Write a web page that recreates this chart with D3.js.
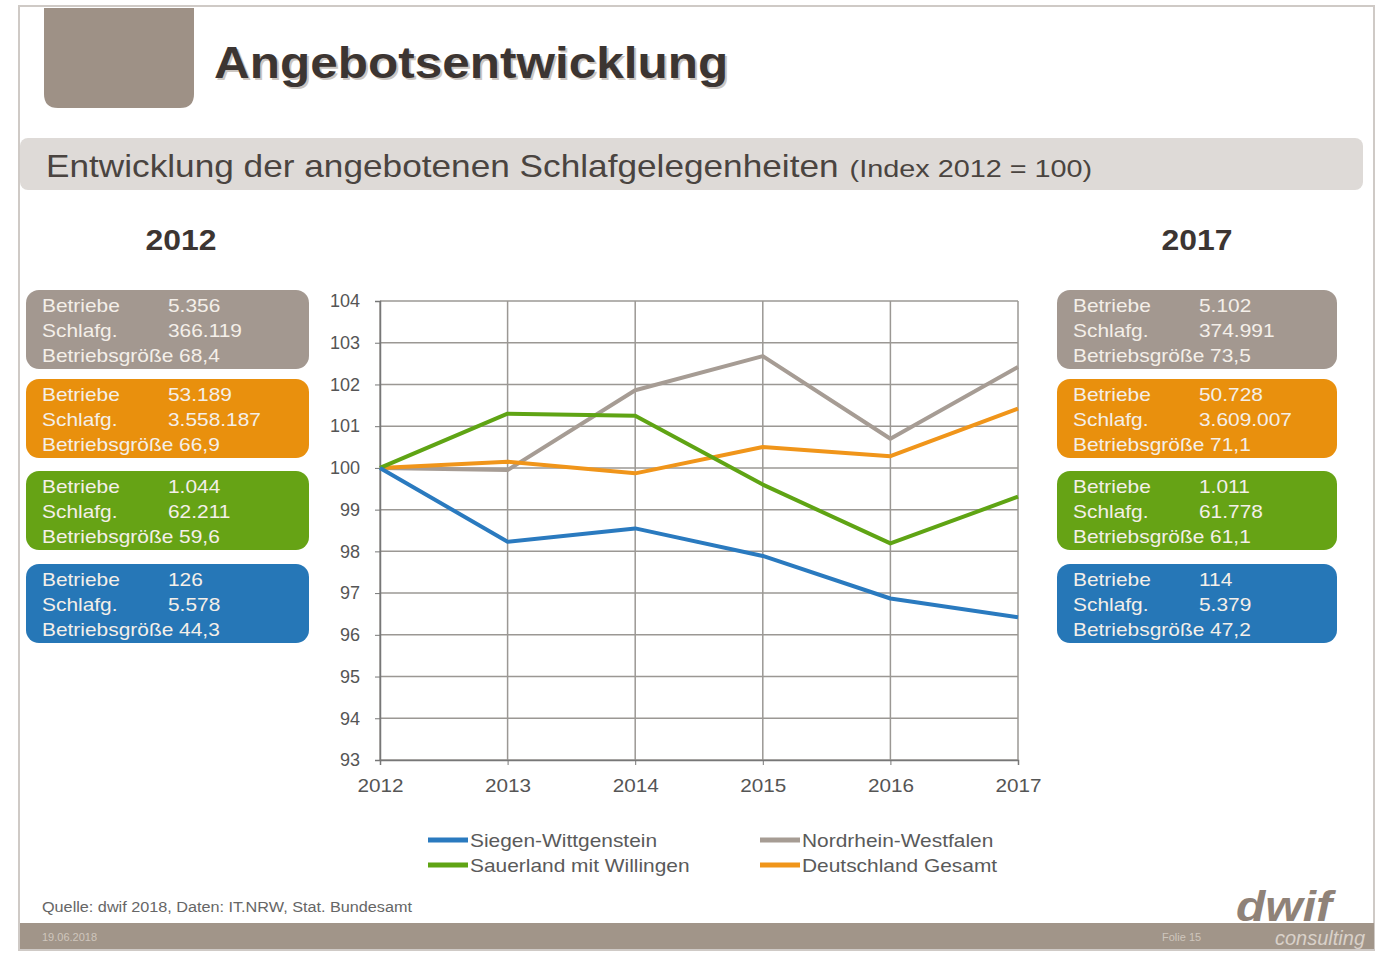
<!DOCTYPE html>
<html>
<head>
<meta charset="utf-8">
<script src="https://cdn.jsdelivr.net/npm/d3@7"></script>
<style>
  body { margin: 0; background: #fff; }
  svg { display: block; font-family: "Liberation Sans", Arial, sans-serif; }
</style>
</head>
<body>
<svg id="slide" width="1379" height="955"></svg>
<script>
"use strict";

// data
var years = [2012, 2013, 2014, 2015, 2016, 2017];
var yTicks = [93, 94, 95, 96, 97, 98, 99, 100, 101, 102, 103, 104];
var seriesNames = ["Siegen-Wittgenstein", "Sauerland mit Willingen", "Nordrhein-Westfalen", "Deutschland Gesamt"];
var siegen = [100, 98.23, 98.55, 97.89, 96.87, 96.42];
var sauerland = [100, 101.3, 101.25, 99.6, 98.19, 99.31];
var nrw = [100, 99.95, 101.86, 102.68, 100.7, 102.42];
var deutschland = [100, 100.15, 99.87, 100.5, 100.28, 101.42];

// boxes: order top to bottom = NRW, Deutschland, Sauerland, Siegen
var boxLabels = ["Betriebe", "Schlafg.", "Betriebsgröße"];
var box2012 = [
  ["5.356", "366.119", "68,4"],
  ["53.189", "3.558.187", "66,9"],
  ["1.044", "62.211", "59,6"],
  ["126", "5.578", "44,3"]
];
var box2017 = [
  ["5.102", "374.991", "73,5"],
  ["50.728", "3.609.007", "71,1"],
  ["1.011", "61.778", "61,1"],
  ["114", "5.379", "47,2"]
];

var colBlue = "#2a7abf", colGreen = "#5fa414", colGrey = "#a69c94", colOrange = "#f0951a";
var boxColors = ["#a39890", "#e9900d", "#66a315", "#2677b7"];
var STRETCH = 1.1; // the slide is a bit wider than the font

var svg = d3.select('#slide');

// widen a text horizontally, keeps its anchor
function widen(sel, k) {
  sel.each(function () {
    var len = this.getComputedTextLength();
    d3.select(this).attr('textLength', len * (k || STRETCH)).attr('lengthAdjust', 'spacingAndGlyphs');
  });
  return sel;
}

// slide frame
svg.append('rect').attr('x', 19).attr('y', 6).attr('width', 1355).attr('height', 944)
  .attr('fill', '#fff').attr('stroke', '#cfcac6').attr('stroke-width', 2);

// title square with rounded bottom
svg.append('path')
  .attr('d', 'M44,8 H194 V94 Q194,108 180,108 H58 Q44,108 44,94 Z')
  .attr('fill', '#9e9186');
widen(svg.append('text').attr('x', 216).attr('y', 80)
  .attr('font-size', 45).attr('font-weight', 'bold').attr('fill', '#ccc6c1')
  .text('Angebotsentwicklung'));
widen(svg.append('text').attr('x', 214).attr('y', 78)
  .attr('font-size', 45).attr('font-weight', 'bold').attr('fill', '#3c3532')
  .text('Angebotsentwicklung'));

// subtitle band
svg.append('rect').attr('x', 20).attr('y', 138).attr('width', 1343).attr('height', 52)
  .attr('rx', 8).attr('fill', '#dedad7');
var sub1 = widen(svg.append('text').attr('x', 46).attr('y', 177).attr('fill', '#4a4440')
  .attr('font-size', 32).text('Entwicklung der angebotenen Schlafgelegenheiten'));
var sub1Len = +sub1.attr('textLength');
widen(svg.append('text').attr('x', 46 + sub1Len + 11).attr('y', 177).attr('fill', '#4a4440')
  .attr('font-size', 24).text('(Index 2012 = 100)'), 1.2);

// year headers
widen(svg.append('text').attr('x', 181).attr('y', 250).attr('text-anchor', 'middle')
  .attr('font-size', 29).attr('font-weight', 'bold').attr('fill', '#3c3532').text('2012'));
widen(svg.append('text').attr('x', 1197).attr('y', 250).attr('text-anchor', 'middle')
  .attr('font-size', 29).attr('font-weight', 'bold').attr('fill', '#3c3532').text('2017'));

// info boxes
var boxTops = [290, 379, 471, 564];
function drawBoxes(x0, w, vals) {
  vals.forEach(function (v, i) {
    var g = svg.append('g').attr('transform', 'translate(' + x0 + ',' + boxTops[i] + ')');
    g.append('rect').attr('width', w).attr('height', 79).attr('rx', 13).attr('fill', boxColors[i]);
    boxLabels.forEach(function (lab, j) {
      var t = g.append('text').attr('x', 16).attr('y', 22 + j * 25)
        .attr('font-size', 19).attr('fill', '#f4efe9');
      if (j < 2) {
        t.text(lab);
        widen(g.append('text').attr('x', 142).attr('y', 22 + j * 25)
          .attr('font-size', 19).attr('fill', '#f4efe9').text(v[j]));
      } else {
        t.text(lab + ' ' + v[j]);
      }
      widen(t);
    });
  });
}
drawBoxes(26, 283, box2012);
drawBoxes(1057, 280, box2017);

// chart
var x = d3.scalePoint().domain(years).range([380, 1018]);
var y = d3.scaleLinear().domain([93, 104]).range([760, 301]);

var chart = svg.append('g');
chart.append('g').selectAll('line').data(yTicks).join('line')
  .attr('x1', 380).attr('x2', 1018).attr('y1', function (d) { return y(d); }).attr('y2', function (d) { return y(d); })
  .attr('stroke', '#9b9894').attr('stroke-width', 1.5);
chart.append('g').selectAll('line').data(years).join('line')
  .attr('y1', 301).attr('y2', 760).attr('x1', function (d) { return x(d); }).attr('x2', function (d) { return x(d); })
  .attr('stroke', '#9b9894').attr('stroke-width', 1.5);

var yAxis = chart.append('g').attr('transform', 'translate(380,0)')
  .call(d3.axisLeft(y).tickValues(yTicks).tickSize(5).tickPadding(15).tickFormat(d3.format('d')));
var xAxis = chart.append('g').attr('transform', 'translate(0,760)')
  .call(d3.axisBottom(x).tickSize(5).tickPadding(14).tickFormat(d3.format('d')));
[yAxis, xAxis].forEach(function (a) {
  a.select('.domain').attr('stroke', '#777').attr('stroke-width', 1.5);
  a.selectAll('.tick line').attr('stroke', '#777');
  a.selectAll('text').attr('font-size', 18).attr('fill', '#555')
    .attr('font-family', '"Liberation Sans", Arial, sans-serif');
});
widen(yAxis.selectAll('text'), 1.0);
widen(xAxis.selectAll('text'), 1.15);

var line = d3.line().x(function (d, i) { return x(years[i]); }).y(function (d) { return y(d); });
var seriesData = [nrw, deutschland, sauerland, siegen];
var seriesCols = [colGrey, colOrange, colGreen, colBlue];
seriesData.forEach(function (s, i) {
  chart.append('path').attr('d', line(s)).attr('fill', 'none')
    .attr('stroke', seriesCols[i]).attr('stroke-width', 4).attr('stroke-linejoin', 'round');
});

// legend
var legendCols = [colBlue, colGreen, colGrey, colOrange];
seriesNames.forEach(function (name, i) {
  var lx = i < 2 ? 428 : 760;
  var ly = 840 + (i % 2) * 25;
  svg.append('line').attr('x1', lx).attr('x2', lx + 40).attr('y1', ly).attr('y2', ly)
    .attr('stroke', legendCols[i]).attr('stroke-width', 5);
  widen(svg.append('text').attr('x', lx + 42).attr('y', ly + 7).attr('font-size', 19)
    .attr('fill', '#5a5a5a').text(name));
});

// footer
svg.append('text').attr('x', 42).attr('y', 912).attr('font-size', 14).attr('fill', '#666')
  .attr('textLength', 370).attr('lengthAdjust', 'spacingAndGlyphs')
  .text('Quelle: dwif 2018, Daten: IT.NRW,  Stat. Bundesamt');
svg.append('rect').attr('x', 20).attr('y', 923).attr('width', 1354).attr('height', 26).attr('fill', '#a19589');
svg.append('text').attr('x', 42).attr('y', 941).attr('font-size', 11).attr('fill', '#cfc6bd').text('19.06.2018');
svg.append('text').attr('x', 1162).attr('y', 941).attr('font-size', 11).attr('fill', '#cfc6bd').text('Folie 15');
svg.append('text').attr('x', 1236).attr('y', 921).attr('font-size', 42).attr('font-weight', 'bold')
  .attr('font-style', 'italic').attr('fill', '#8f8278')
  .attr('textLength', 96).attr('lengthAdjust', 'spacingAndGlyphs').text('dwif');
svg.append('text').attr('x', 1275).attr('y', 945).attr('font-size', 20).attr('font-style', 'italic')
  .attr('fill', '#d9d1c9').attr('textLength', 90).attr('lengthAdjust', 'spacingAndGlyphs').text('consulting');
</script>
</body>
</html>
